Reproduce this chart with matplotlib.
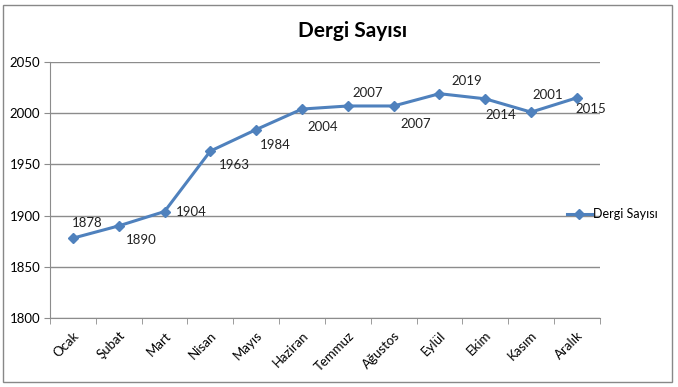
import numpy as np
import matplotlib.pyplot as plt
from matplotlib.patches import Rectangle

months = ["Ocak", "Şubat", "Mart", "Nisan", "Mayıs", "Haziran",
          "Temmuz", "Ağustos", "Eylül", "Ekim", "Kasım", "Aralık"]
values = [1878, 1890, 1904, 1963, 1984, 2004, 2007, 2007, 2019, 2014, 2001, 2015]
yticks = [1800, 1850, 1900, 1950, 2000, 2050]

# label offsets in points (dx, dy)
offsets = [(10, 11), (16, -10), (19, 0), (17, -10), (14, -11), (15, -13),
           (14, 9), (16, -13), (20, 9), (11, -12), (12, 12), (10, -8)]

plt.rcParams['font.family'] = ['Lato', 'DejaVu Sans']
line_color = "#4F81BD"
grid_color = "#8C8C8C"

fig = plt.figure(figsize=(6.78, 3.87), dpi=100)
fig.patches.append(Rectangle((0.005, 0.013), 0.986, 0.974, transform=fig.transFigure,
                             fill=False, edgecolor="#888888", linewidth=1))
ax = fig.add_axes([0.0737, 0.178, 0.811, 0.662])

x = np.arange(len(months))
ax.plot(x, values, color=line_color, linewidth=2.2, marker="D", markersize=5.5,
        label="Dergi Sayısı")
for xi, v, (dx, dy) in zip(x, values, offsets):
    ax.annotate(str(v), (xi, v), xytext=(dx, dy), textcoords="offset points",
                ha="center", va="center", fontsize=9.5, color="#222222")

ax.set_xlim(-0.5, len(months) - 0.5)
ax.set_ylim(1800, 2050)
ax.set_yticks(yticks)
ax.set_yticklabels([str(t) for t in yticks], fontsize=9.5)
ax.yaxis.grid(True, color=grid_color, linewidth=1)
ax.set_axisbelow(True)

ax.set_xticks(x)
ax.set_xticklabels(months, rotation=45, ha="right", va="top", fontsize=9.5,
                   rotation_mode="anchor")
ax.set_xticks(np.arange(-0.5, len(months)), minor=True)
ax.tick_params(axis="x", which="major", length=0, pad=8)
ax.tick_params(axis="x", which="minor", length=4, color=grid_color)
ax.tick_params(axis="y", length=4, color=grid_color, pad=3)

for s in ["top", "right"]:
    ax.spines[s].set_visible(False)
for s in ["left", "bottom"]:
    ax.spines[s].set_color(grid_color)

fig.text(0.52, 0.92, "Dergi Sayısı", ha="center", va="center",
         fontsize=15, fontweight="bold")
ax.legend(loc="center left", bbox_to_anchor=(0.94, 0.405), frameon=False,
          fontsize=9, handlelength=2.0, handletextpad=0.1, borderaxespad=0,
          borderpad=0)

plt.savefig("out.png", dpi=100)
plt.close()
